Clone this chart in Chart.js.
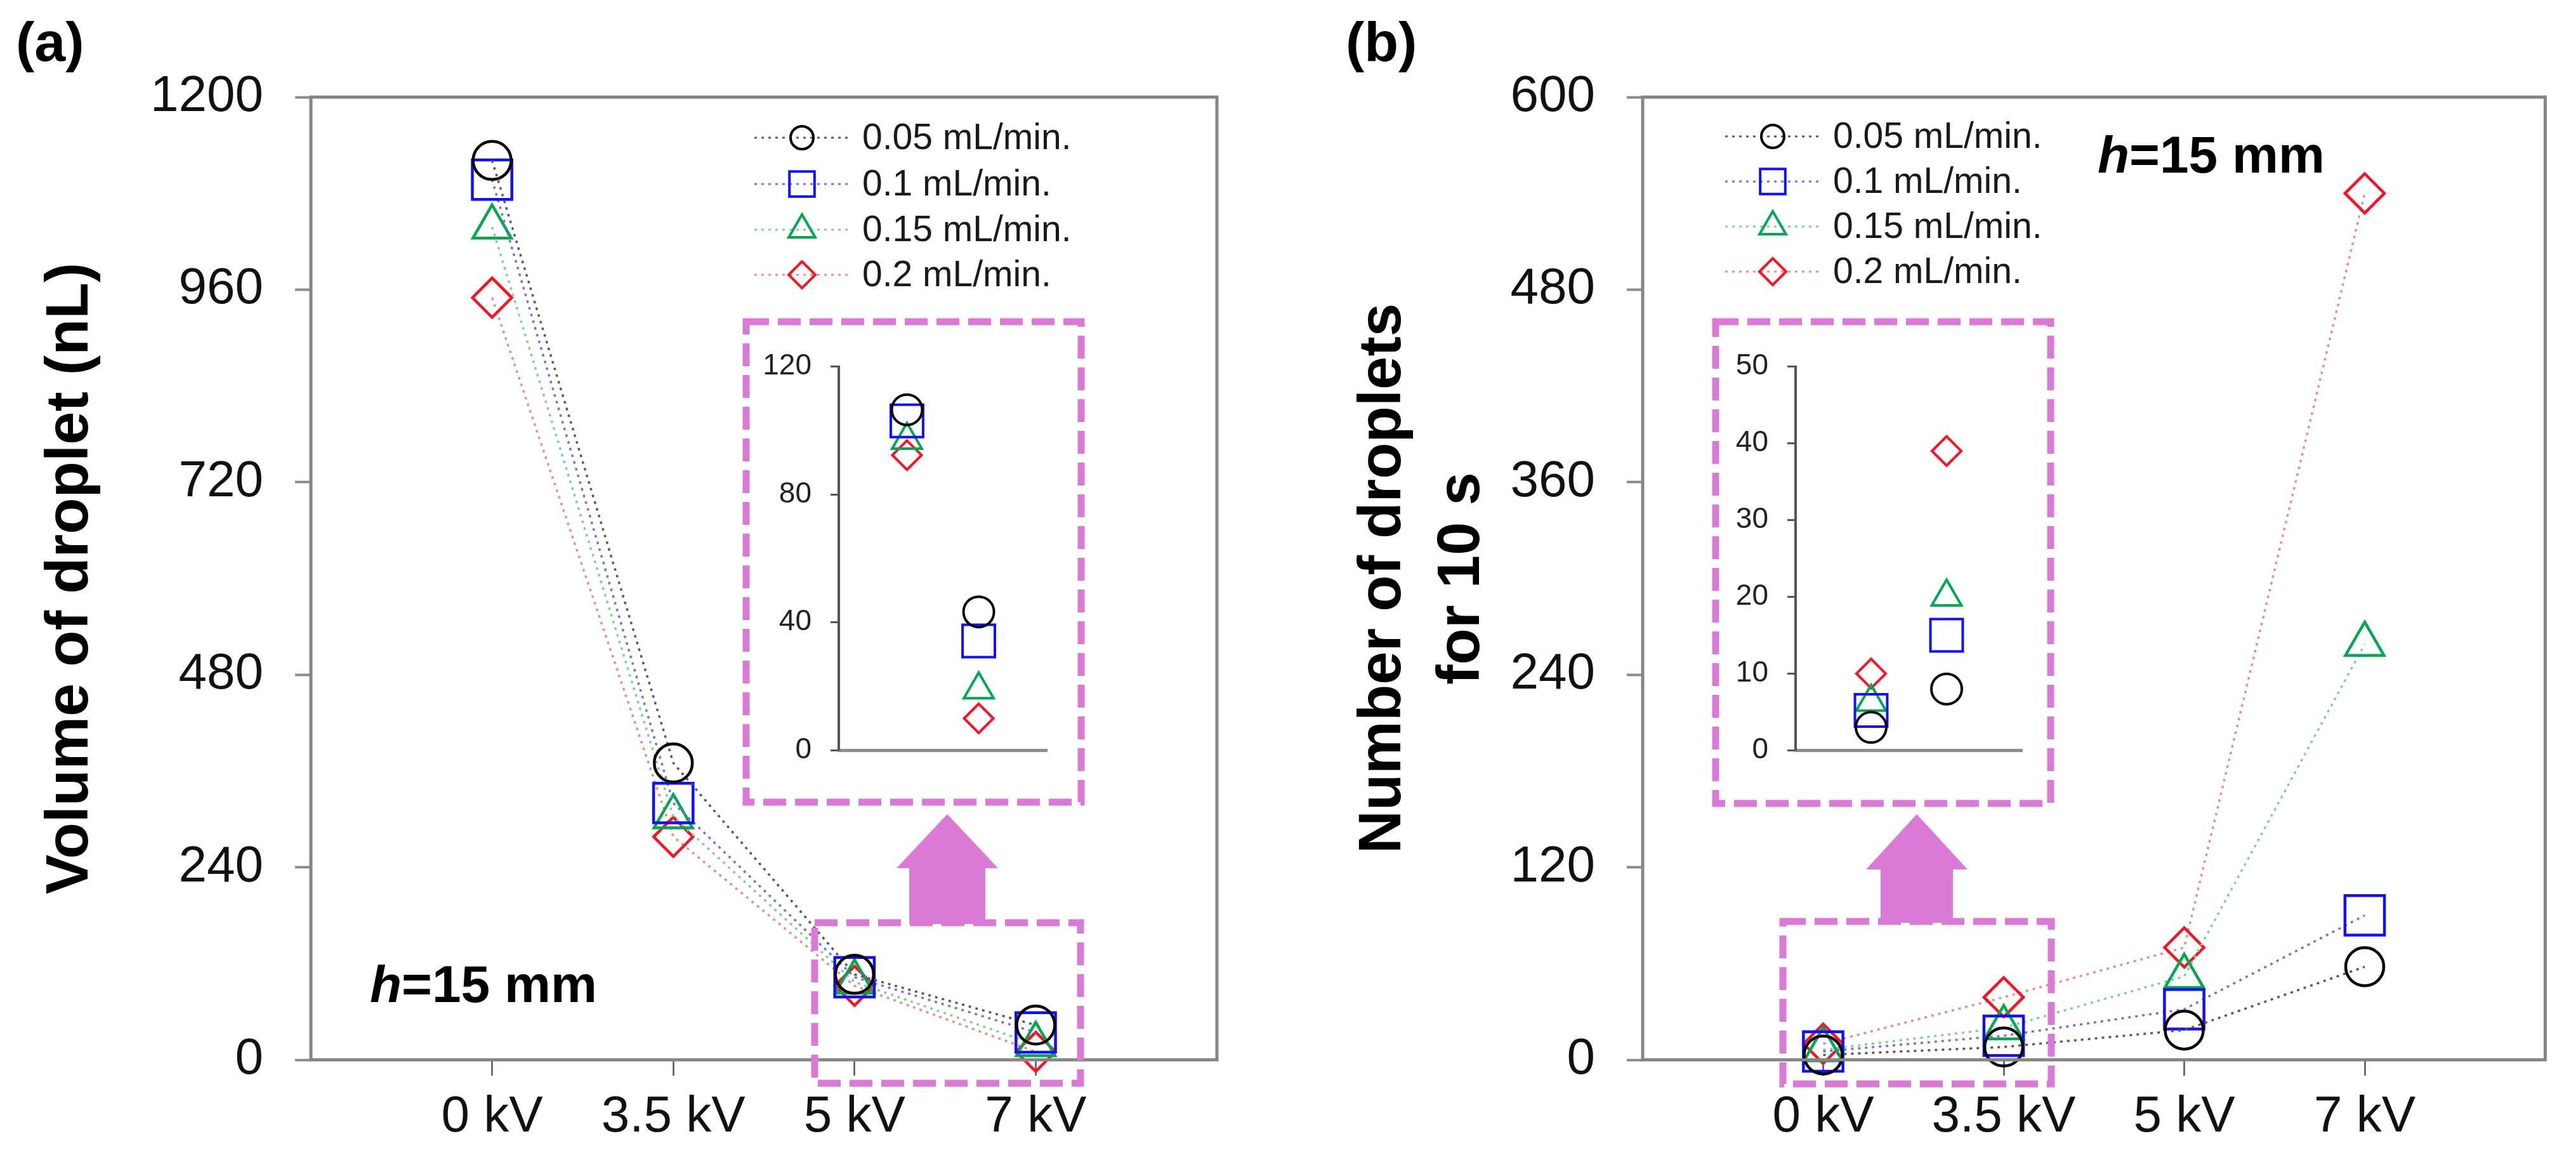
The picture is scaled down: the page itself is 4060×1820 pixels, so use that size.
<!DOCTYPE html>
<html>
<head>
<meta charset="utf-8">
<script src="https://cdn.jsdelivr.net/npm/chart.js@4.4.1/dist/chart.umd.min.js"></script>
<style>
  html, body { margin: 0; padding: 0; background: #fff; }
  #page { position: relative; width: 4060px; height: 1820px; overflow: hidden; background: #fff; }
  canvas { position: absolute; }
</style>
</head>
<body>
<div id="page">
  <canvas id="mainA" width="2030" height="1820" style="left:0;top:0"></canvas>
  <canvas id="mainB" width="2030" height="1820" style="left:2030px;top:0"></canvas>
  <canvas id="insetA" width="500" height="720" style="left:1190px;top:520px"></canvas>
  <canvas id="insetB" width="515" height="720" style="left:2712px;top:520px"></canvas>
</div>
<script>
// categories
const voltages = ['0 kV', '3.5 kV', '5 kV', '7 kV'];
const flowRates = ['0.05 mL/min.', '0.1 mL/min.', '0.15 mL/min.', '0.2 mL/min.'];

// (a) volume of droplet (nL), one array per flow rate
const volume005 = [1121, 370, 106.5, 43.3];
const volume01 = [1097, 320, 103, 34.2];
const volume015 = [1038, 303, 97, 19];
const volume02 = [950, 278, 92.3, 10];

// (b) number of droplets for 10 s
const count005 = [3, 8, 18.5, 58];
const count01 = [5.2, 15, 31.5, 90];
const count015 = [6.3, 20, 52, 259];
const count02 = [10, 39, 70, 540];

// tick labels
const volumeTicks = [0, 240, 480, 720, 960, 1200];
const countTicks = [0, 120, 240, 360, 480, 600];
const volumeInsetTicks = [0, 40, 80, 120];
const countInsetTicks = [0, 10, 20, 30, 40, 50];
const xTickValues = [-1, 0, 1, 2, 3, 4];

const FONT = "'Liberation Sans', Arial, sans-serif";
const MAGENTA = '#DA7AD6';

// marker / line look for each flow rate
const looks = [
    { point: 'circle',   color: '#000000', line: '#5a5a5a', r: 30, rl: 18, ri: 24 },
    { point: 'rect',     color: '#1010ff', line: '#7070e8', r: 44, rl: 28, ri: 36 },
    { point: 'triangle', color: '#00a84f', line: '#7fcf9f', r: 35, rl: 24, ri: 27 },
    { point: 'rectRot',  color: '#ff1020', line: '#f08a8a', r: 31, rl: 21, ri: 23 }
];

// draw a hollow marker the same way Chart.js does (for the legend)
function drawMarker(ctx, style, x, y, r) {
    ctx.beginPath();
    if (style === 'circle') {
        ctx.arc(x, y, r, 0, Math.PI * 2);
    } else if (style === 'rect') {
        const s = r * Math.SQRT1_2;
        ctx.rect(x - s, y - s, 2 * s, 2 * s);
    } else if (style === 'triangle') {
        ctx.moveTo(x, y - r);
        ctx.lineTo(x + 0.866 * r, y + r / 2);
        ctx.lineTo(x - 0.866 * r, y + r / 2);
        ctx.closePath();
    } else {
        ctx.moveTo(x - r, y);
        ctx.lineTo(x, y - r);
        ctx.lineTo(x + r, y);
        ctx.lineTo(x, y + r);
        ctx.closePath();
    }
    ctx.stroke();
}

// frame, dashed boxes, arrow, legend and labels
const decorations = {
    id: 'decorations',
    afterDraw(chart, args, o) {
        const ctx = chart.ctx;
        const a = chart.chartArea;
        ctx.save();

        // full frame round the plot
        ctx.strokeStyle = '#858585';
        ctx.lineWidth = 5;
        ctx.strokeRect(a.left, a.top, a.right - a.left, a.bottom - a.top);

        // dashed zoom boxes
        ctx.strokeStyle = MAGENTA;
        ctx.lineWidth = 11;
        ctx.setLineDash([36, 14]);
        o.boxes.forEach(b => ctx.strokeRect(b[0], b[1], b[2] - b[0], b[3] - b[1]));
        ctx.setLineDash([]);

        // up arrow between the boxes
        const ar = o.arrow;
        ctx.fillStyle = MAGENTA;
        ctx.beginPath();
        ctx.moveTo(ar.x, ar.tip);
        ctx.lineTo(ar.x + ar.head, ar.base);
        ctx.lineTo(ar.x + ar.shaft, ar.base);
        ctx.lineTo(ar.x + ar.shaft, ar.bottom);
        ctx.lineTo(ar.x - ar.shaft, ar.bottom);
        ctx.lineTo(ar.x - ar.shaft, ar.base);
        ctx.lineTo(ar.x - ar.head, ar.base);
        ctx.closePath();
        ctx.fill();

        // legend
        const lg = o.legend;
        flowRates.forEach((name, i) => {
            const y = lg.rows[i];
            const lk = looks[i];
            ctx.strokeStyle = lk.line;
            ctx.lineWidth = 3;
            ctx.setLineDash([4, 7]);
            ctx.beginPath();
            ctx.moveTo(lg.x - 75, y);
            ctx.lineTo(lg.x + 75, y);
            ctx.stroke();
            ctx.setLineDash([]);
            ctx.strokeStyle = lk.color;
            ctx.lineWidth = 4;
            drawMarker(ctx, lk.point, lg.x, y, lk.rl);
            ctx.fillStyle = '#1a1a1a';
            ctx.font = '57px ' + FONT;
            ctx.textAlign = 'left';
            ctx.textBaseline = 'middle';
            ctx.fillText(name, lg.x + 95, y + 2);
        });

        // panel letter
        ctx.fillStyle = '#000';
        ctx.textBaseline = 'alphabetic';
        ctx.font = 'bold 88px ' + FONT;
        ctx.fillText(o.panel.text, o.panel.x, o.panel.y);

        // h=15 mm
        ctx.font = 'italic bold 82px ' + FONT;
        ctx.fillText('h', o.height.x, o.height.y);
        const w = ctx.measureText('h').width;
        ctx.font = 'bold 82px ' + FONT;
        ctx.fillText('=15 mm', o.height.x + w, o.height.y);

        ctx.restore();
    }
};

function makeDatasets(series, insetIdx) {
    return series.map((vals, i) => {
        const lk = looks[i];
        const picked = insetIdx ? insetIdx.map(k => vals[k]) : vals;
        return {
            label: flowRates[i],
            data: picked.map((v, k) => ({ x: k, y: v })),
            showLine: !insetIdx,
            borderColor: lk.line,
            borderWidth: 3.5,
            borderDash: [4, 7],
            pointStyle: lk.point,
            pointRadius: insetIdx ? lk.ri : lk.r,
            pointBorderColor: lk.color,
            pointBackgroundColor: 'rgba(0,0,0,0)',
            pointBorderWidth: insetIdx ? 4 : 4.5,
            tension: 0,
            fill: false,
            clip: false
        };
    });
}

function mainChart(id, series, yTicks, title, titlePad, titleLH, area, deco) {
    const cv = document.getElementById(id);
    return new Chart(cv, {
        type: 'line',
        data: { datasets: makeDatasets(series) },
        options: {
            responsive: false,
            animation: false,
            devicePixelRatio: 1,
            events: [],
            layout: { padding: { top: area.top, right: cv.width - area.right, left: 0, bottom: 0 } },
            plugins: { legend: { display: false }, tooltip: { enabled: false }, decorations: deco },
            scales: {
                x: {
                    type: 'linear', min: -1, max: 4,
                    afterBuildTicks: s => { s.ticks = xTickValues.map(v => ({ value: v })); },
                    afterFit: s => { s.height = cv.height - area.bottom; },
                    ticks: {
                        callback: v => voltages[v] ?? '',
                        font: { family: FONT, size: 80 }, color: '#111',
                        padding: 18, maxRotation: 0, autoSkip: false
                    },
                    grid: {
                        drawOnChartArea: false, tickLength: 25, tickWidth: 2.5,
                        tickColor: c => (c.tick && (c.tick.value < 0 || c.tick.value > 3)) ? 'rgba(0,0,0,0)' : '#555'
                    },
                    border: { display: false }
                },
                y: {
                    min: yTicks[0], max: yTicks[yTicks.length - 1],
                    afterBuildTicks: s => { s.ticks = yTicks.map(v => ({ value: v })); },
                    afterFit: s => { s.width = area.left; },
                    ticks: { callback: v => String(v), font: { family: FONT, size: 80 }, color: '#111', padding: 50 },
                    grid: { drawOnChartArea: false, tickLength: 25, tickWidth: 4, tickColor: '#8a8a8a' },
                    border: { display: false },
                    title: {
                        display: true, text: title, color: '#000',
                        font: { family: FONT, size: 94, weight: 'bold', lineHeight: titleLH },
                        padding: { top: titlePad, bottom: 0 }
                    }
                }
            }
        },
        plugins: [decorations]
    });
}

function insetChart(id, series, idx, yTicks, xMin, xMax, area) {
    const cv = document.getElementById(id);
    return new Chart(cv, {
        type: 'line',
        data: { datasets: makeDatasets(series, idx) },
        options: {
            responsive: false,
            animation: false,
            devicePixelRatio: 1,
            events: [],
            layout: { padding: { top: area.top, right: cv.width - area.right, left: 0, bottom: 0 } },
            plugins: { legend: { display: false }, tooltip: { enabled: false } },
            scales: {
                x: {
                    type: 'linear', min: xMin, max: xMax,
                    afterFit: s => { s.height = cv.height - area.bottom; },
                    ticks: { display: false },
                    grid: { drawOnChartArea: false, drawTicks: false },
                    border: { display: true, color: '#8c8c8c', width: 5 }
                },
                y: {
                    min: yTicks[0], max: yTicks[yTicks.length - 1],
                    afterBuildTicks: s => { s.ticks = yTicks.map(v => ({ value: v })); },
                    afterFit: s => { s.width = area.left; },
                    ticks: { callback: v => String(v), font: { family: FONT, size: 46 }, color: '#222', padding: 30 },
                    grid: { drawOnChartArea: false, tickLength: 13, tickWidth: 3, tickColor: '#555' },
                    border: { display: true, color: '#555', width: 4 }
                }
            }
        }
    });
}

const volumeSeries = [volume005, volume01, volume015, volume02];
const countSeries = [count005, count01, count015, count02];

mainChart('mainA', volumeSeries, volumeTicks, 'Volume of droplet (nL)', 56, 1.2,
    { left: 490, right: 1918, top: 153, bottom: 1670 },
    {
        boxes: [[1176, 507, 1704, 1264], [1284, 1454, 1703, 1707]],
        arrow: { x: 1493, tip: 1283, base: 1368, head: 80, shaft: 60, bottom: 1456 },
        legend: { x: 1264, rows: [217, 290, 362, 433] },
        panel: { text: '(a)', x: 25, y: 96 },
        height: { x: 583, y: 1579 }
    });

mainChart('mainB', countSeries, countTicks, ['Number of droplets', 'for 10 s'], 89, 1.32,
    { left: 559, right: 1990, top: 153, bottom: 1670 },
    {
        boxes: [[674, 507, 1202, 1266], [780, 1452, 1203, 1708]],
        arrow: { x: 991, tip: 1283, base: 1370, head: 80, shaft: 57, bottom: 1454 },
        legend: { x: 764, rows: [215, 286, 357, 428] },
        panel: { text: '(b)', x: 91, y: 96 },
        height: { x: 1276, y: 272 }
    });

// insets: last two voltages of (a), first two of (b)
insetChart('insetA', volumeSeries, [2, 3], volumeInsetTicks, -0.95, 1.95,
    { left: 132, right: 483, top: 38, bottom: 691 });
insetChart('insetB', countSeries, [0, 1], countInsetTicks, -1, 2,
    { left: 118, right: 497, top: 36, bottom: 690 });
</script>
</body>
</html>
